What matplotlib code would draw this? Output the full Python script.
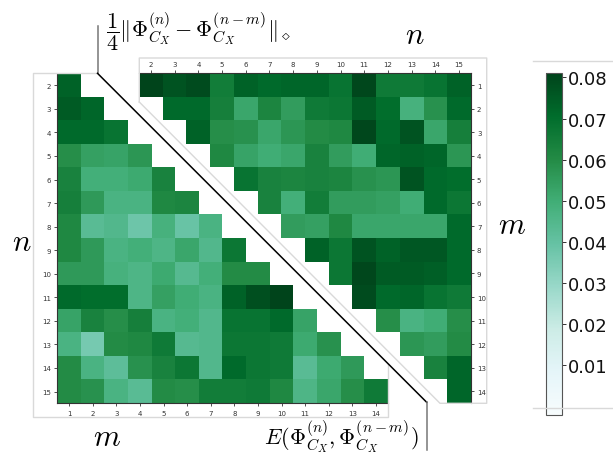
import numpy as np
import matplotlib
matplotlib.use("Agg")
import matplotlib.pyplot as plt
from matplotlib.lines import Line2D

plt.rcParams['mathtext.fontset'] = 'cm'

# lower-left triangle: rows n = 2..15, columns m = 1..n-1
lower_rows = [
    [0.073],
    [0.075, 0.072],
    [0.071, 0.071, 0.068],
    [0.059, 0.054, 0.053, 0.057],
    [0.063, 0.049, 0.049, 0.051, 0.063],
    [0.064, 0.056, 0.047, 0.047, 0.061, 0.062],
    [0.061, 0.043, 0.045, 0.038, 0.048, 0.039, 0.047],
    [0.061, 0.056, 0.047, 0.049, 0.046, 0.052, 0.045, 0.067],
    [0.056, 0.056, 0.048, 0.046, 0.051, 0.044, 0.049, 0.060, 0.060],
    [0.071, 0.070, 0.070, 0.046, 0.054, 0.050, 0.047, 0.073, 0.078, 0.081],
    [0.053, 0.063, 0.059, 0.064, 0.047, 0.049, 0.045, 0.068, 0.068, 0.071, 0.053],
    [0.047, 0.036, 0.060, 0.061, 0.066, 0.044, 0.045, 0.067, 0.067, 0.066, 0.051, 0.058],
    [0.060, 0.047, 0.042, 0.058, 0.063, 0.067, 0.045, 0.071, 0.067, 0.066, 0.043, 0.051, 0.056],
    [0.060, 0.058, 0.047, 0.043, 0.060, 0.059, 0.065, 0.065, 0.066, 0.061, 0.046, 0.052, 0.059, 0.066],
]

# upper-right triangle: rows m = 1..14, columns n = m+1..15
upper_rows = [
    [0.081, 0.077, 0.079, 0.065, 0.073, 0.071, 0.072, 0.072, 0.068, 0.080, 0.066, 0.066, 0.068, 0.073],
    [0.071, 0.071, 0.064, 0.052, 0.062, 0.055, 0.066, 0.067, 0.075, 0.070, 0.048, 0.058, 0.071],
    [0.073, 0.059, 0.058, 0.052, 0.057, 0.060, 0.061, 0.080, 0.071, 0.077, 0.052, 0.064],
    [0.061, 0.053, 0.050, 0.052, 0.063, 0.055, 0.050, 0.072, 0.073, 0.072, 0.057],
    [0.068, 0.063, 0.062, 0.063, 0.062, 0.058, 0.057, 0.077, 0.071, 0.070],
    [0.063, 0.049, 0.065, 0.055, 0.055, 0.054, 0.050, 0.071, 0.067],
    [0.055, 0.054, 0.061, 0.052, 0.052, 0.052, 0.052, 0.071],
    [0.073, 0.067, 0.077, 0.073, 0.076, 0.076, 0.071],
    [0.067, 0.080, 0.075, 0.075, 0.074, 0.071],
    [0.079, 0.071, 0.072, 0.068, 0.066],
    [0.059, 0.047, 0.050, 0.059],
    [0.057, 0.055, 0.060],
    [0.063, 0.072],
    [0.072],
]

lower_yticks = list(range(2, 16))
lower_xticks = list(range(1, 15))
upper_xticks = list(range(2, 16))
upper_yticks = list(range(1, 15))
cbar_ticks = [0.01, 0.02, 0.03, 0.04, 0.05, 0.06, 0.07, 0.08]

# build masked 14x14 grids
lower = np.full((14, 14), np.nan)
for i, row in enumerate(lower_rows):
    lower[i, :len(row)] = row
upper = np.full((14, 14), np.nan)
for i, row in enumerate(upper_rows):
    upper[i, 14 - len(row):] = row

W, H = 613, 460
fig = plt.figure(figsize=(W / 100, H / 100), dpi=100)


def rect(x0, y0, x1, y1):
    # pixel box (top-left origin) -> figure fraction
    return [x0 / W, 1 - y1 / H, (x1 - x0) / W, (y1 - y0) / H]


def px(x, y):
    return x / W, 1 - y / H


cmap = plt.get_cmap('BuGn')
vmin, vmax = -0.002, 0.081
spine_col = '#333333'

axL = fig.add_axes(rect(57.3, 74.5, 387.7, 404.3))
axL.set_facecolor('none')
im = axL.imshow(lower, cmap=cmap, vmin=vmin, vmax=vmax, aspect='auto',
                extent=(0.5, 14.5, 15.5, 1.5), interpolation='nearest')
axL.set_xticks(lower_xticks)
axL.set_yticks(lower_yticks)
axL.tick_params(labelsize=5, length=2.5, width=0.6, colors=spine_col, pad=2)
for s in ['top', 'right']:
    axL.spines[s].set_visible(False)
for s in ['left', 'bottom']:
    axL.spines[s].set_color(spine_col)
    axL.spines[s].set_linewidth(0.8)

axR = fig.add_axes(rect(139.3, 74.3, 470.7, 404.0))
axR.set_facecolor('none')
axR.imshow(upper, cmap=cmap, vmin=vmin, vmax=vmax, aspect='auto',
           extent=(1.5, 15.5, 14.5, 0.5), interpolation='nearest')
axR.set_xticks(upper_xticks)
axR.set_yticks(upper_yticks)
axR.xaxis.tick_top()
axR.yaxis.tick_right()
axR.tick_params(labelsize=5, length=2.5, width=0.6, colors=spine_col, pad=2)
for s in ['left', 'bottom']:
    axR.spines[s].set_visible(False)
for s in ['top', 'right']:
    axR.spines[s].set_color(spine_col)
    axR.spines[s].set_linewidth(0.8)

# colorbar
cax = fig.add_axes(rect(545.7, 74.3, 562.0, 415.7))
cb = fig.colorbar(im, cax=cax, ticks=cbar_ticks)
cb.ax.tick_params(labelsize=13, length=3, width=0.6, colors='#111111', pad=1)
cb.outline.set_edgecolor('#555555')
cb.outline.set_linewidth(0.8)

# light grey frames around the two triangles and the colorbar
frame_col = '#d9d9d9'
frames = [
    [(97.3, 74.3), (33, 74.3), (33, 418), (387.7, 418), (387.7, 364.7)],
    [(139.3, 103), (139.3, 59), (486.7, 59), (486.7, 404.3), (440, 404.3), (139.3, 103)],
    [(533, 61.7), (613, 61.7)],
    [(533, 409), (613, 409)],
]
for pts in frames:
    xs, ys = zip(*[px(x, y) for x, y in pts])
    fig.add_artist(Line2D(xs, ys, color=frame_col, lw=1.0))

# separator line between the two triangles
for pts, c in [([(97.5, 27), (97.5, 74.3)], '#777777'),
               ([(97.5, 74.3), (426.7, 403.3)], 'black'),
               ([(426.7, 403.3), (426.7, 451)], '#777777')]:
    xs, ys = zip(*[px(x, y) for x, y in pts])
    fig.add_artist(Line2D(xs, ys, color=c, lw=1.1))

# axis letters and annotations
fig.text(*px(22, 243), r'$n$', fontsize=22, ha='center', va='center')
fig.text(*px(107, 438), r'$m$', fontsize=22, ha='center', va='center')
fig.text(*px(415, 36), r'$n$', fontsize=22, ha='center', va='center')
fig.text(*px(512, 226), r'$m$', fontsize=22, ha='center', va='center')
fig.text(*px(106, 32),
         r'$\dfrac{1}{4}\|\Phi^{(n)}_{C_X} - \Phi^{(n-m)}_{C_X}\|_\diamond$',
         fontsize=16, ha='left', va='center')
fig.text(*px(341, 437), r'$E(\Phi^{(n)}_{C_X}, \Phi^{(n-m)}_{C_X})$',
         fontsize=16, ha='center', va='center')

fig.savefig('out.png', dpi=100)
